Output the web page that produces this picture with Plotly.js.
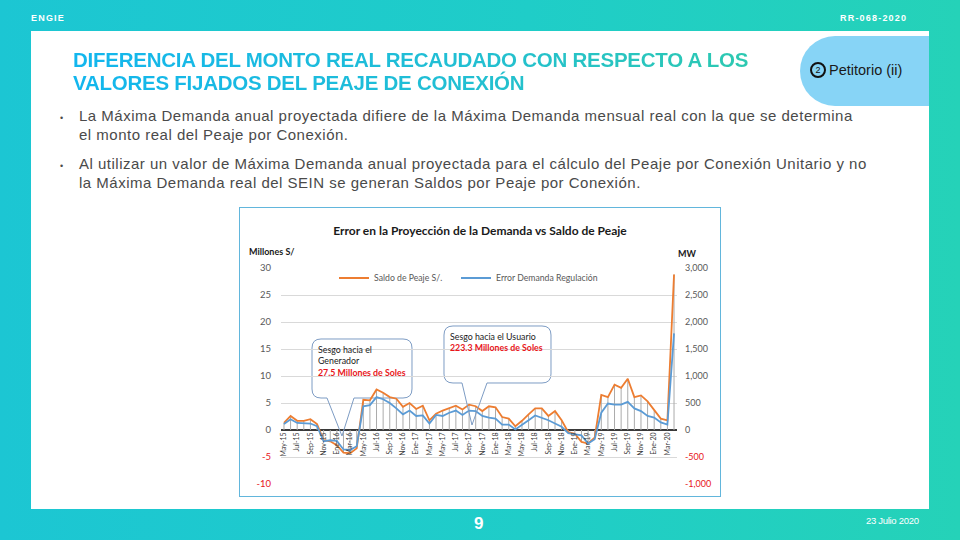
<!DOCTYPE html>
<html>
<head>
<meta charset="utf-8">
<script src="https://cdn.plot.ly/plotly-3.0.1.min.js"></script>
<style>
  html, body { margin:0; padding:0; }
  body { width:960px; height:540px; position:relative; overflow:hidden;
         background: linear-gradient(90deg, #1cc6d3 0%, #1fcdc8 55%, #25d2b8 100%);
         font-family: 'Liberation Sans', Arial, sans-serif; }
  .abs { position:absolute; white-space:nowrap; }
  #panel { left:31px; top:31px; width:898px; height:478px; background:#fff; }
  #tab { left:800px; top:36px; width:129px; height:70px; background:#87d4f6; border-radius:35px 0 0 35px; }
  #circ { left:810px; top:62px; width:12px; height:12px; border:2.5px solid #111; border-radius:50%;
          font-size:9px; line-height:12px; text-align:center; color:#111; }
  .title { font-weight:bold; font-size:20.5px; letter-spacing:-0.25px;
           background: linear-gradient(90deg, #12b6ee 0px, #22bfd2 400px, #2dc9b0 680px);
           -webkit-background-clip:text; background-clip:text; color:transparent; }
  .bul { font-size:15px; color:#4a4a4a; letter-spacing:0.5px; line-height:19px; }
  .dot { font-size:9px; color:#4a4a4a; }
  #chartbox { left:239px; top:207px; width:480px; height:288px; border:1px solid #62b6dc; background:#fff; }
</style>
</head>
<body>
<div class="abs" style="left:31px;top:13px;font-weight:bold;font-size:9px;color:#fff;letter-spacing:1.2px;">ENGIE</div>
<div class="abs" style="left:840px;top:13px;font-weight:bold;font-size:9px;color:#fff;letter-spacing:1.2px;">RR-068-2020</div>
<div id="panel" class="abs"></div>
<div id="tab" class="abs"></div>
<div id="circ" class="abs">2</div>
<div class="abs" style="left:829px;top:62px;font-size:14.5px;color:#1a1a1a;">Petitorio (ii)</div>
<div class="abs title" style="left:73px;top:48px;">DIFERENCIA DEL MONTO REAL RECAUDADO CON RESPECTO A LOS</div>
<div class="abs title" style="left:73px;top:71px;">VALORES FIJADOS DEL PEAJE DE CONEXIÓN</div>
<div class="abs dot" style="left:60px;top:113px;">•</div>
<div class="abs bul" style="left:79px;top:106px;">La Máxima Demanda anual proyectada difiere de la Máxima Demanda mensual real con la que se determina<br>el monto real del Peaje por Conexión.</div>
<div class="abs dot" style="left:60px;top:161px;">•</div>
<div class="abs bul" style="left:79px;top:154px;">Al utilizar un valor de Máxima Demanda anual proyectada para el cálculo del Peaje por Conexión Unitario y no<br>la Máxima Demanda real del SEIN se generan Saldos por Peaje por Conexión.</div>
<div class="abs" style="left:474px;top:514px;font-weight:bold;font-size:17px;color:#fff;">9</div>
<div class="abs" style="left:866px;top:515px;font-size:9.5px;color:#fff;letter-spacing:-0.3px;">23 Julio 2020</div>
<div id="chartbox" class="abs"><div id="chart" style="width:480px;height:288px;"></div></div>

<script>
// ---- data ----
const months = ["May-15","Jun-15","Jul-15","Ago-15","Sep-15","Oct-15","Nov-15","Dic-15",
  "Ene-16","Feb-16","Mar-16","Abr-16","May-16","Jun-16","Jul-16","Ago-16","Sep-16","Oct-16","Nov-16","Dic-16",
  "Ene-17","Feb-17","Mar-17","Abr-17","May-17","Jun-17","Jul-17","Ago-17","Sep-17","Oct-17","Nov-17","Dic-17",
  "Ene-18","Feb-18","Mar-18","Abr-18","May-18","Jun-18","Jul-18","Ago-18","Sep-18","Oct-18","Nov-18","Dic-18",
  "Ene-19","Feb-19","Mar-19","Abr-19","May-19","Jun-19","Jul-19","Ago-19","Sep-19","Oct-19","Nov-19","Dic-19",
  "Ene-20","Feb-20","Mar-20","Abr-20"];
const tickLabels = ["May-15","Jul-15","Sep-15","Nov-15","Ene-16","Mar-16","May-16","Jul-16","Sep-16","Nov-16",
  "Ene-17","Mar-17","May-17","Jul-17","Sep-17","Nov-17","Ene-18","Mar-18","May-18","Jul-18","Sep-18","Nov-18",
  "Ene-19","Mar-19","May-19","Jul-19","Sep-19","Nov-19","Ene-20","Mar-20"];
// Saldo de Peaje (millones S/.)
const saldoPeaje = [1.3,2.6,1.7,1.7,2.0,1.1,-1.9,-2.1,-2.8,-4.2,-4.3,-3.4,
  5.6,5.5,7.5,6.9,6.1,5.8,4.3,5.0,3.9,4.5,1.8,3.0,
  3.6,4.1,4.5,3.8,4.7,4.4,3.5,4.4,4.2,2.4,2.1,0.7,
  1.7,2.9,4.0,4.0,2.6,3.5,1.8,-0.4,-0.7,-2.2,-2.5,-1.4,
  6.5,6.1,8.4,7.8,9.5,6.1,6.4,5.3,3.6,2.1,1.8,28.8];
// Error Demanda Regulación (MW)
const errorDemanda = [110,200,130,120,120,70,-210,-190,-200,-360,-370,-300,
  440,460,610,570,500,400,290,360,260,270,120,280,
  260,320,360,280,360,350,260,230,210,100,100,10,
  90,180,270,230,180,120,60,-60,-80,-100,-250,-170,
  320,490,470,470,520,400,350,260,230,140,100,1790];
const leftTicks = [-10,-5,0,5,10,15,20,25,30];
const leftTickText = ["-10","-5","0","5","10","15","20","25","30"];
const rightTicks = [-1000,-500,0,500,1000,1500,2000,2500,3000];
const rightTickText = ["-1,000","-500","0","500","1,000","1,500","2,000","2,500","3,000"];

const ORANGE = "#ED7D31", BLUE = "#5B9BD5", RED = "#E8161B";
const redIfNeg = (v, t) => v < 0 ? '<span style="color:' + RED + '">' + t + '</span>' : t;

// drop lines from zero to each Saldo point
const dropX = [], dropY = [];
months.forEach((m, i) => { dropX.push(m, m, null); dropY.push(0, saldoPeaje[i], null); });

const traces = [
  { x: dropX, y: dropY, type: 'scatter', mode: 'lines', line: { color: '#ababab', width: 1 },
    showlegend: false, hoverinfo: 'skip' },
  { x: months, y: saldoPeaje, name: 'Saldo de Peaje S/.', type: 'scatter', mode: 'lines',
    line: { color: ORANGE, width: 1.8 }, legend: 'legend' },
  { x: months, y: errorDemanda, name: 'Error Demanda Regulación', type: 'scatter', mode: 'lines',
    yaxis: 'y2', line: { color: BLUE, width: 1.8 }, legend: 'legend2' }
];

// pixel helpers relative to plot area (chart div coordinates: plot x 41..437, y 60..276)
const PL = 41, PR = 437, PT = 60, PB = 276;
const px = x => (x - 239 - PL) / (PR - PL);   // x given in page pixels
const py = y => (PB - (y - 207)) / (PB - PT);  // y given in page pixels
const P = (x, y) => px(x).toFixed(4) + ',' + py(y).toFixed(4);

// rounded box, open between b1 and b2 on the bottom edge
function calloutBox(L, R, T, B, r, b1, b2) {
  return 'M' + P(b2, B) + ' L' + P(R - r, B) + ' Q' + P(R, B) + ' ' + P(R, B - r) +
    ' L' + P(R, T + r) + ' Q' + P(R, T) + ' ' + P(R - r, T) +
    ' L' + P(L + r, T) + ' Q' + P(L, T) + ' ' + P(L, T + r) +
    ' L' + P(L, B - r) + ' Q' + P(L, B) + ' ' + P(L + r, B) + ' L' + P(b1, B);
}
function calloutPointer(B, b1, b2, tx, ty) {
  return 'M' + P(b1, B) + ' L' + P(tx, ty) + ' L' + P(b2, B);
}

const FONT = 'Lato, "Open Sans", sans-serif';
const CALLOUT_LINE = { color: '#7d9cc4', width: 1 };
const legendStyle = (x) => ({ orientation: 'h', x: x, xanchor: 'left', y: py(277), yanchor: 'middle',
  font: { family: FONT, size: 8.7, color: '#595959' }, bgcolor: 'rgba(0,0,0,0)' });
const layout = {
  width: 480, height: 288,
  margin: { l: PL, r: 480 - PR, t: PT, b: 288 - PB },
  paper_bgcolor: '#fff', plot_bgcolor: 'rgba(0,0,0,0)',
  font: { family: FONT, color: '#595959' },
  title: { text: 'Error en la Proyección de la Demanda vs Saldo de Peaje',
           font: { family: FONT, size: 12, color: '#1a1a1a', weight: 'bold' },
           x: 0.5, xanchor: 'center', y: 1 - 23 / 288, yref: 'container', yanchor: 'middle' },
  xaxis: { type: 'category', categoryorder: 'array', categoryarray: months,
           range: [-0.45, 59.45], anchor: 'free', position: 0.25,
           tickmode: 'array', tickvals: tickLabels, ticktext: tickLabels, tickangle: -90,
           tickfont: { family: FONT, size: 7, color: '#404040' }, ticks: '', showgrid: false,
           showline: false, zeroline: false },
  yaxis: { range: [-10, 30], tickmode: 'array', tickvals: leftTicks,
           ticktext: leftTicks.map((v, i) => redIfNeg(v, leftTickText[i])),
           tickfont: { family: FONT, size: 9.5, color: '#595959' }, ticks: '', ticklabelstandoff: 9,
           showgrid: true, gridcolor: '#d9d9d9', gridwidth: 1,
           zeroline: true, zerolinecolor: '#3a3a3a', zerolinewidth: 2.5, showline: false },
  yaxis2: { range: [-1000, 3000], overlaying: 'y', side: 'right', tickmode: 'array', tickvals: rightTicks,
            ticktext: rightTicks.map((v, i) => redIfNeg(v, rightTickText[i])),
            tickfont: { family: FONT, size: 9, color: '#595959' }, ticks: '', ticklabelstandoff: 7,
            showgrid: false, zeroline: false, showline: false },
  showlegend: true,
  legend: legendStyle(px(333)),
  legend2: legendStyle(px(455)),
  shapes: [
    { type: 'path', xref: 'paper', yref: 'paper', layer: 'between',
      path: calloutBox(311, 411, 338, 397, 9, 326, 353), line: CALLOUT_LINE, fillcolor: '#ffffff' },
    { type: 'path', xref: 'paper', yref: 'paper', layer: 'above',
      path: calloutPointer(397, 326, 353, 341, 435), line: CALLOUT_LINE },
    { type: 'path', xref: 'paper', yref: 'paper', layer: 'between',
      path: calloutBox(443, 550, 325, 382, 9, 461, 486), line: CALLOUT_LINE, fillcolor: '#ffffff' },
    { type: 'path', xref: 'paper', yref: 'paper', layer: 'above',
      path: calloutPointer(382, 461, 486, 471, 424), line: CALLOUT_LINE }
  ],
  annotations: [
    { xref: 'paper', yref: 'paper', x: px(246), y: py(250), xanchor: 'left', yanchor: 'middle',
      text: 'Millones S/', showarrow: false, font: { family: FONT, size: 9, color: '#1a1a1a', weight: 'bold' } },
    { xref: 'paper', yref: 'paper', x: px(675), y: py(252), xanchor: 'left', yanchor: 'middle',
      text: 'MW', showarrow: false, font: { family: FONT, size: 9, color: '#1a1a1a', weight: 'bold' } },
    { xref: 'paper', yref: 'paper', x: px(315), y: py(341), xanchor: 'left', yanchor: 'top', align: 'left',
      text: 'Sesgo hacia el<br>Generador<br><span style="color:' + RED + '"><b>27.5 Millones de Soles</b></span>',
      showarrow: false, font: { family: FONT, size: 8.8, color: '#1a1a1a' } },
    { xref: 'paper', yref: 'paper', x: px(447), y: py(328), xanchor: 'left', yanchor: 'top', align: 'left',
      text: 'Sesgo hacia el Usuario<br><span style="color:' + RED + '"><b>223.3 Millones de Soles</b></span>',
      showarrow: false, font: { family: FONT, size: 8.8, color: '#1a1a1a' } }
  ]
};
Plotly.newPlot('chart', traces, layout, { staticPlot: true, displayModeBar: false });
</script>
</body>
</html>
